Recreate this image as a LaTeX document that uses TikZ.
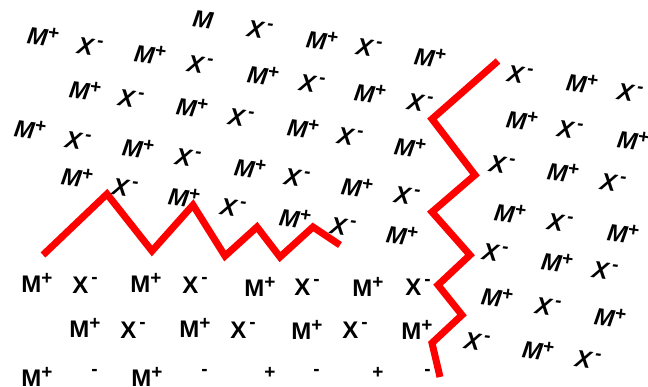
\documentclass[tikz,border=0pt]{standalone}
\usepackage{fontspec}
\newfontfamily\arial{Liberation Sans}
\newcommand{\Psup}{\raisebox{8pt}{\fontsize{19}{19}\selectfont +}}
\newcommand{\Msup}{\raisebox{10pt}{\fontsize{19}{19}\selectfont -}}
\newcommand{\Mp}{M\Psup}
\newcommand{\Xm}{X\hspace{3pt}\Msup}
\newcommand{\Po}{\phantom{M}\Psup}
\newcommand{\Mo}{\phantom{X}\hspace{3pt}\Msup}
\begin{document}
\begin{tikzpicture}[x=1pt,y=-1pt,
  ion/.style={inner sep=0pt, font=\arial\bfseries\fontsize{24}{24}\selectfont},
  tilt/.style={inner sep=0pt, rotate=-8, font=\arial\bfseries\itshape\fontsize{24}{24}\selectfont},
  boundary/.style={draw=red, line width=7pt, line join=miter}]
\useasboundingbox (0,0) rectangle (648,387);
% grain boundaries
\coordinate (a1) at (43,255); \coordinate (a2) at (107,194); \coordinate (a3) at (152,251);
\coordinate (a4) at (193,205); \coordinate (a5) at (225,256); \coordinate (a6) at (257,227);
\coordinate (a7) at (280,257); \coordinate (a8) at (313,227); \coordinate (a9) at (340,245);
\draw[boundary] (a1)--(a2)--(a3)--(a4)--(a5)--(a6)--(a7)--(a8)--(a9);
\coordinate (b1) at (498,61); \coordinate (b2) at (432,119); \coordinate (b3) at (475,175);
\coordinate (b4) at (432,212); \coordinate (b5) at (470,255); \coordinate (b6) at (438,285);
\coordinate (b7) at (462,315); \coordinate (b8) at (432,343); \coordinate (b9) at (440,377);
\draw[boundary] (b1)--(b2)--(b3)--(b4)--(b5)--(b6)--(b7)--(b8)--(b9);
% upper left grain
\node[tilt] (t0) at (203,20) {M};
\foreach \x/\y [count=\i] in {322/40,430/57,43/36,150/54,263/75,370/93,85/90,192/107,303/128,410/147,
  30/129,138/148,250/168,357/187,77/177,184/197,295/218,402/235}
  \node[tilt] (tm\i) at (\x,\y) {\Mp};
\foreach \x/\y [count=\i] in {260/30,369/48,90/47,200/65,312/84,420/103,131/99,241/118,350/137,
  78/141,188/158,297/178,407/196,125/188,233/208,343/227}
  \node[tilt] (tx\i) at (\x,\y) {\Xm};
% right grain
\foreach \x/\y [count=\i] in {582/83,522/120,633/140,563/172,510/213,623/233,557/262,497/297,610/317,538/350}
  \node[tilt] (rm\i) at (\x,\y) {\Mp};
\foreach \x/\y [count=\i] in {520/75,630/93,570/130,502/165,613/183,560/223,495/253,605/271,548/307,477/342,588/360}
  \node[tilt] (rx\i) at (\x,\y) {\Xm};
% lower grain
\foreach \x/\y [count=\i] in {37/283,146/283,260/287,368/287,85/328,195/328,307/330,417/330,37/377,147/377}
  \node[ion] (bm\i) at (\x,\y) {\Mp};
\foreach \x/\y [count=\i] in {85/285,195/285,307/287,418/287,133/330,243/330,355/330}
  \node[ion] (bx\i) at (\x,\y) {\Xm};
\foreach \x/\y [count=\i] in {260/377,368/377}
  \node[ion] (bp\i) at (\x,\y) {\Po};
\foreach \x/\y [count=\i] in {85/377,195/377,307/377,418/377}
  \node[ion] (bn\i) at (\x,\y) {\Mo};
\end{tikzpicture}
\end{document}
